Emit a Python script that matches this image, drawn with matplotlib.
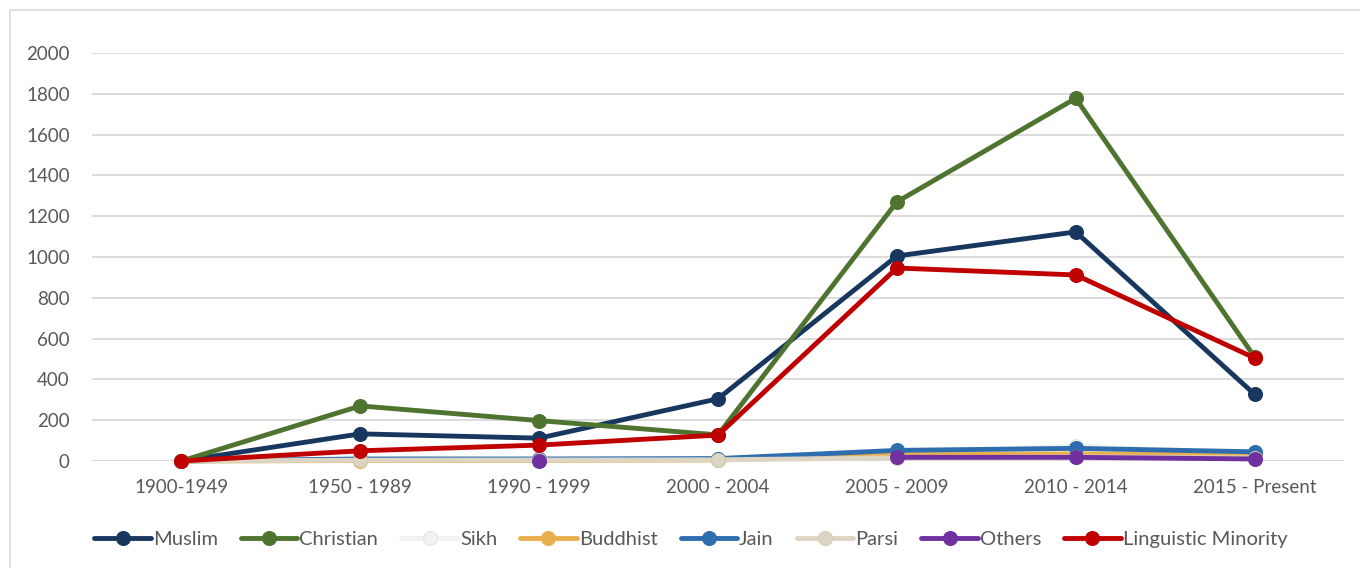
import matplotlib
matplotlib.use("Agg")
import matplotlib.pyplot as plt
from matplotlib.lines import Line2D
import numpy as np

categories = ["1900-1949", "1950 - 1989", "1990 - 1999", "2000 - 2004",
              "2005 - 2009", "2010 - 2014", "2015 - Present"]

muslim = [0, 133, 112, 305, 1005, 1123, 327]
christian = [0, 270, 198, 128, 1270, 1778, 510]
sikh = [0, 3, 5, 8, 30, 75, 30]
buddhist = [0, 2, 3, 5, 30, 35, 30]
jain = [0, 10, 10, 12, 52, 62, 45]
parsi = [0, 4, 5, 6, 15, 20, 15]
others = [np.nan, np.nan, 0, np.nan, 18, 18, 10]
linguistic = [0, 50, 78, 127, 946, 912, 505]

series_names = ["Muslim", "Christian", "Sikh", "Buddhist", "Jain", "Parsi",
                "Others", "Linguistic Minority"]
series_values = [muslim, christian, sikh, buddhist, jain, parsi, others, linguistic]
colors = ["#17375E", "#4E7430", "#F2F2F0", "#E9AF4E", "#2E6EAE", "#DDD5C3",
          "#7030A0", "#C00000"]
edge_colors = ["#17375E", "#4E7430", "#E4E4E0", "#E9AF4E", "#2E6EAE", "#D5CCB8",
               "#7030A0", "#C00000"]
yticks = [0, 200, 400, 600, 800, 1000, 1200, 1400, 1600, 1800, 2000]

plt.rcParams['font.family'] = ['Lato', 'DejaVu Sans']

W, H = 1360, 568
fig = plt.figure(figsize=(W / 100, H / 100), dpi=100)
left, right = 92 / W, 1344 / W
bottom, top = (H - 461) / H, (H - 53) / H
ax = fig.add_axes([left, bottom, right - left, top - bottom])

x = np.arange(len(categories))
for name, vals, c, ec in zip(series_names, series_values, colors, edge_colors):
    ax.plot(x, vals, color=c, lw=3.5, marker='o', markersize=10,
            markerfacecolor=c, markeredgecolor=ec, markeredgewidth=0.8,
            label=name, clip_on=False, solid_capstyle='round')

ax.set_xlim(-0.5, 6.5)
ax.set_ylim(0, 2000)
ax.set_yticks(yticks)
ax.set_xticks(x)
ax.set_xticklabels(categories)
ax.grid(axis='y', color='#D9D9D9', lw=1.3)
ax.set_axisbelow(True)
for s in ax.spines.values():
    s.set_visible(False)
ax.tick_params(axis='both', length=0, labelsize=13.5, colors='#595959')
ax.tick_params(axis='y', pad=16)
ax.tick_params(axis='x', pad=13)

fig.legend(loc='center', bbox_to_anchor=(0.508, (H - 539) / H), ncol=8,
           frameon=False, fontsize=14.5, handlelength=2.8, handletextpad=0.1,
           columnspacing=1.15, labelcolor='#595959')

# chart border (top and left)
fig.add_artist(Line2D([10 / W, 1], [1 - 10 / H, 1 - 10 / H], color='#D9D9D9', lw=1.2,
                      transform=fig.transFigure))
fig.add_artist(Line2D([10 / W, 10 / W], [0, 1 - 10 / H], color='#D9D9D9', lw=1.2,
                      transform=fig.transFigure))

fig.savefig("out.png", dpi=100, facecolor='white')
